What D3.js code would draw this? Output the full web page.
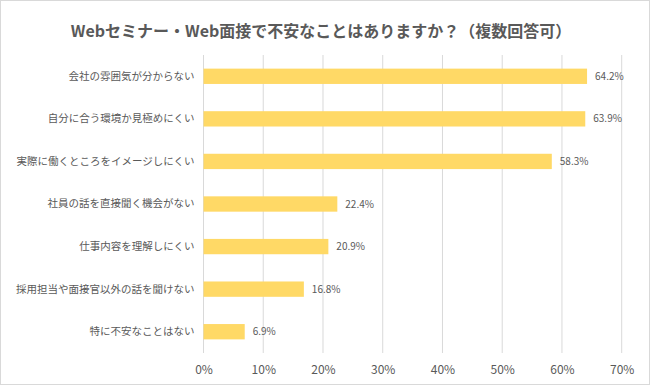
<!DOCTYPE html>
<html>
<head>
<meta charset="utf-8">
<script src="https://cdn.jsdelivr.net/npm/d3@7"></script>
<style>
  body { margin: 0; background: #fff; }
  text { font-family: "Noto Sans CJK JP", "Noto Sans", sans-serif; }
</style>
</head>
<body>
<script>
// chart data
var categories = [
  '会社の雰囲気が分からない',
  '自分に合う環境か見極めにくい',
  '実際に働くところをイメージしにくい',
  '社員の話を直接聞く機会がない',
  '仕事内容を理解しにくい',
  '採用担当や面接官以外の話を聞けない',
  '特に不安なことはない'
];
var values = [64.2, 63.9, 58.3, 22.4, 20.9, 16.8, 6.9];
var tickValues = [0, 10, 20, 30, 40, 50, 60, 70];
var title = 'Webセミナー・Web面接で不安なことはありますか？（複数回答可）';

var width = 650, height = 385;
var margin = {top: 55, right: 28, bottom: 32, left: 203.5};

var svg = d3.select('body')
            .append('svg')
            .attr('width', width)
            .attr('height', height);

// outer frame
svg.append('rect')
   .attr('x', 0.5).attr('y', 0.5)
   .attr('width', width - 1).attr('height', height - 1)
   .attr('fill', '#fff')
   .attr('stroke', '#d9d9d9');

svg.append('text')
   .attr('x', 321)
   .attr('y', 37)
   .attr('text-anchor', 'middle')
   .attr('font-size', 16)
   .attr('font-weight', 'bold')
   .attr('fill', '#595959')
   .text(title);

var x = d3.scaleLinear()
          .domain([0, 70])
          .range([margin.left, 621.7]);

var y = d3.scaleBand()
          .domain(categories)
          .range([margin.top, height - margin.bottom])
          .paddingInner(0.64)
          .paddingOuter(0.32);

// gridlines
svg.append('g')
   .selectAll('line')
   .data(tickValues)
   .enter()
     .append('line')
     .attr('x1', function(d) { return x(d); })
     .attr('x2', function(d) { return x(d); })
     .attr('y1', margin.top)
     .attr('y2', height - margin.bottom)
     .attr('stroke', '#d9d9d9')
     .attr('stroke-width', 1);

var xAxis = svg.append('g')
   .attr('transform', 'translate(0,' + (height - margin.bottom) + ')')
   .call(d3.axisBottom(x).tickValues(tickValues).tickSize(0).tickPadding(12)
           .tickFormat(function(d) { return d + '%'; }));
xAxis.select('.domain').remove();
xAxis.selectAll('text')
     .attr('font-size', 12)
     .attr('fill', '#595959');

var yAxis = svg.append('g')
   .attr('transform', 'translate(' + margin.left + ',0)')
   .call(d3.axisLeft(y).tickSize(0).tickPadding(9));
yAxis.select('.domain').remove();
yAxis.selectAll('text')
     .attr('font-size', 10.5)
     .attr('fill', '#595959');

svg.append('g')
   .selectAll('rect')
   .data(values)
   .enter()
     .append('rect')
     .attr('x', x(0))
     .attr('y', function(d, i) { return y(categories[i]); })
     .attr('width', function(d) { return x(d) - x(0); })
     .attr('height', y.bandwidth())
     .attr('fill', '#ffd966');

svg.append('g')
   .selectAll('text')
   .data(values)
   .enter()
     .append('text')
     .attr('x', function(d) { return x(d) + 8; })
     .attr('y', function(d, i) { return y(categories[i]) + y.bandwidth() / 2; })
     .attr('dy', '0.35em')
     .attr('font-size', 10)
     .attr('fill', '#595959')
     .text(function(d) { return d.toFixed(1) + '%'; });
</script>
</body>
</html>
